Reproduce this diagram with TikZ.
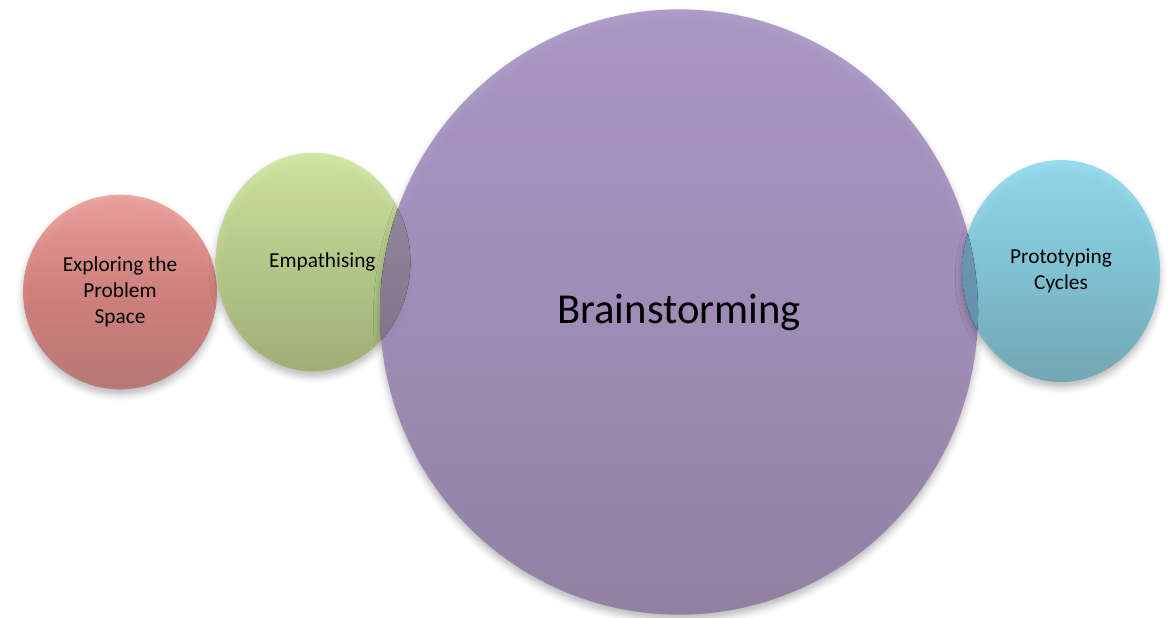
\documentclass[tikz,border=0pt]{standalone}
\usepackage{fontspec}
\setmainfont{Carlito}
\usetikzlibrary{shapes.geometric,shadows.blur}
\tikzset{
  bubble/.style ={ellipse, inner sep=0pt, align=center,
                  font=\fontsize{16}{19.5}\selectfont, fill opacity=0.9, text opacity=1,
                  blur shadow={shadow xshift=0pt, shadow yshift=-4pt,
                               shadow blur radius=5pt, shadow opacity=30}},
  explore/.style={bubble, top color=explTop, bottom color=explBot, middle color=explMid},
  empathy/.style={bubble, top color=empTop, bottom color=empBot, middle color=empMid},
  brain/.style  ={bubble, top color=brTop, bottom color=brBot, middle color=brMid},
  proto/.style  ={bubble, top color=prTop, bottom color=prBot, middle color=prMid},
  overlap/.style={top color=#1!85!white, bottom color=#1!92!black},
}
\definecolor{explTop}{HTML}{EC9C97}
\definecolor{explMid}{HTML}{D27A75}
\definecolor{explBot}{HTML}{B6726F}
\definecolor{empTop}{HTML}{D0E59E}
\definecolor{empMid}{HTML}{B3CA83}
\definecolor{empBot}{HTML}{9CAE71}
\definecolor{brTop}{HTML}{A993C6}
\definecolor{brMid}{HTML}{9C88B6}
\definecolor{brBot}{HTML}{8D7B9F}
\definecolor{prTop}{HTML}{8EDAEE}
\definecolor{prMid}{HTML}{79C2D5}
\definecolor{prBot}{HTML}{6BA5B2}
\definecolor{gpMix}{HTML}{867A90}
\definecolor{bpMix}{HTML}{5E8FB0}

\begin{document}
\begin{tikzpicture}[x=0.75pt, y=-0.75pt]
  \useasboundingbox (0,0) rectangle (1169,617);

  % small bubbles left of the big one
  \node[explore, minimum width=145.5pt, minimum height=146pt] (space) at (120,292)
        {Exploring the\\Problem\\Space};
  \node[empathy, minimum width=146pt, minimum height=164pt] (empath) at (313,262)
        {\hspace*{14pt}Empathising};

  % main bubble
  \node[brain, minimum width=448.5pt, minimum height=454pt,
        font=\fontsize{32}{38}\selectfont] (storm) at (679,312) {Brainstorming};

  % right bubble
  \node[proto, minimum width=148.5pt, minimum height=166.5pt] (cycles) at (1061,271)
        {Prototyping\\Cycles};

  % where the bubbles overlap
  \begin{scope}
    \clip (storm.center) ellipse [x radius=224.25pt, y radius=227pt];
    \fill[overlap=gpMix] (empath.center) ellipse [x radius=73pt, y radius=82pt];
  \end{scope}
  \begin{scope}
    \clip (cycles.center) ellipse [x radius=74.25pt, y radius=83.25pt];
    \fill[overlap=bpMix] (storm.center) ellipse [x radius=224.25pt, y radius=227pt];
  \end{scope}
\end{tikzpicture}
\end{document}
